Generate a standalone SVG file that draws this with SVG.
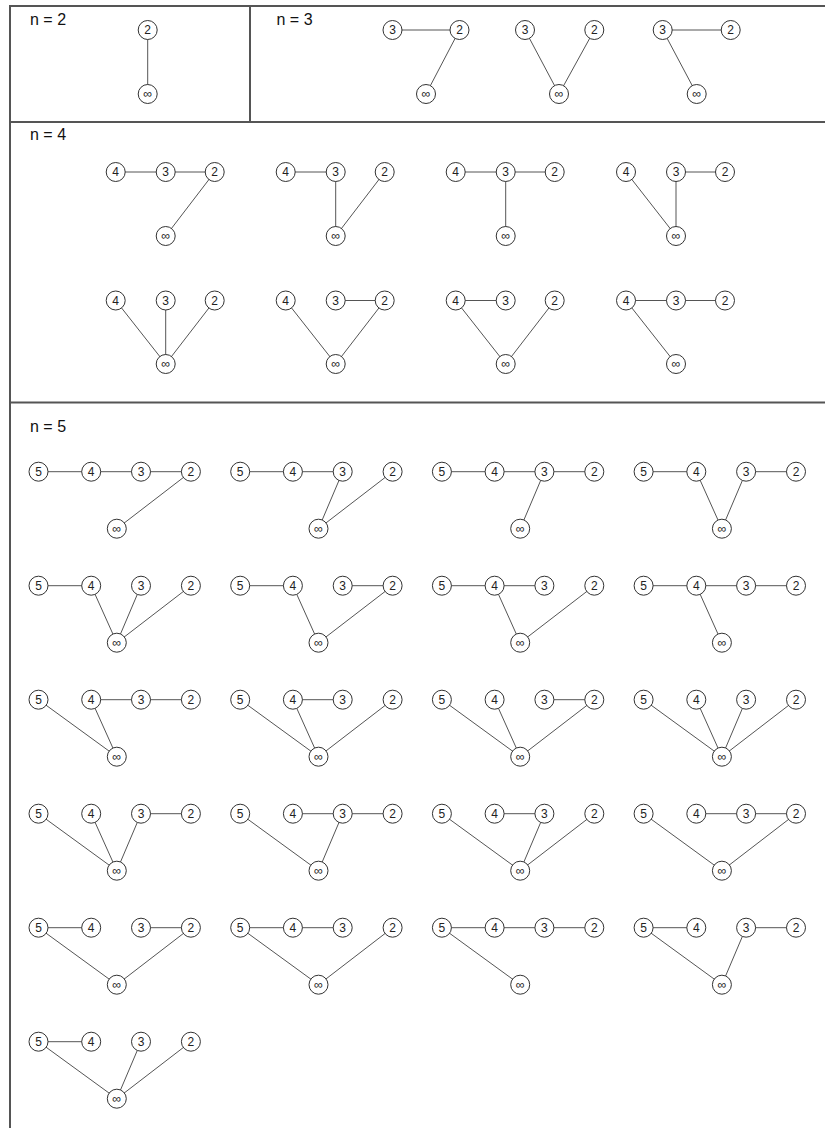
<svg xmlns="http://www.w3.org/2000/svg" width="825" height="1128" viewBox="0 0 825 1128">
<style>
.frame{stroke:#555;stroke-width:2;fill:none}
.edge line{stroke:#555;stroke-width:1}
.node circle{fill:#fff;stroke:#333;stroke-width:1}
.node text{font-family:"Liberation Sans",Arial,sans-serif;font-size:12px;text-anchor:middle;fill:#222}
.inf text{font-size:12.5px}
.title{font-family:"Liberation Sans",Arial,sans-serif;font-size:16px;fill:#111}
</style>
<rect width="825" height="1128" fill="#fff"/>
<g id="frames" class="frame">
<line x1="10" y1="6" x2="825" y2="6"/>
<line x1="10" y1="5" x2="10" y2="1128"/>
<line x1="250" y1="6" x2="250" y2="122"/>
<line x1="10" y1="122" x2="825" y2="122"/>
<line x1="10" y1="402.5" x2="825" y2="402.5"/>
</g>
<g id="titles" class="title">
<text x="30" y="25">n = 2</text>
<text x="276.5" y="25">n = 3</text>
<text x="30" y="140">n = 4</text>
<text x="30" y="431.5">n = 5</text>
</g>
<g id="connectors" class="edge">
<line x1="147.7" y1="30" x2="147.7" y2="94"/>
<line x1="392.5" y1="30" x2="459.5" y2="30"/><line x1="459.5" y1="30" x2="426" y2="94"/>
<line x1="525" y1="30" x2="559" y2="94"/><line x1="594.3" y1="30" x2="559" y2="94"/>
<line x1="662.7" y1="30" x2="730.7" y2="30"/><line x1="662.7" y1="30" x2="696.7" y2="94"/>
<line x1="115.7" y1="172" x2="214.7" y2="172"/><line x1="214.7" y1="172" x2="165.7" y2="236"/>
<line x1="285.7" y1="172" x2="335.7" y2="172"/><line x1="335.7" y1="172" x2="335.7" y2="236"/><line x1="384.7" y1="172" x2="335.7" y2="236"/>
<line x1="455.7" y1="172" x2="554.7" y2="172"/><line x1="505.7" y1="172" x2="505.7" y2="236"/>
<line x1="626" y1="172" x2="676" y2="236"/><line x1="676" y1="172" x2="676" y2="236"/><line x1="676" y1="172" x2="725" y2="172"/>
<line x1="115.7" y1="300.5" x2="165.7" y2="364"/><line x1="165.7" y1="300.5" x2="165.7" y2="364"/><line x1="214.7" y1="300.5" x2="165.7" y2="364"/>
<line x1="285.7" y1="300.5" x2="335.7" y2="364"/><line x1="335.7" y1="300.5" x2="384.7" y2="300.5"/><line x1="384.7" y1="300.5" x2="335.7" y2="364"/>
<line x1="455.7" y1="300.5" x2="505.7" y2="300.5"/><line x1="455.7" y1="300.5" x2="505.7" y2="364"/><line x1="554.7" y1="300.5" x2="505.7" y2="364"/>
<line x1="626" y1="300.5" x2="725" y2="300.5"/><line x1="626" y1="300.5" x2="676" y2="364"/>
<line x1="38.5" y1="471.7" x2="190.9" y2="471.7"/><line x1="190.9" y1="471.7" x2="116.8" y2="528.7"/>
<line x1="240.2" y1="471.7" x2="342.7" y2="471.7"/><line x1="342.7" y1="471.7" x2="318.5" y2="528.7"/><line x1="392.6" y1="471.7" x2="318.5" y2="528.7"/>
<line x1="441.9" y1="471.7" x2="594.3" y2="471.7"/><line x1="544.4" y1="471.7" x2="520.2" y2="528.7"/>
<line x1="643.6" y1="471.7" x2="696.3" y2="471.7"/><line x1="696.3" y1="471.7" x2="721.9" y2="528.7"/><line x1="746.1" y1="471.7" x2="721.9" y2="528.7"/><line x1="746.1" y1="471.7" x2="796" y2="471.7"/>
<line x1="38.5" y1="585.7" x2="91.2" y2="585.7"/><line x1="91.2" y1="585.7" x2="116.8" y2="642.7"/><line x1="141" y1="585.7" x2="116.8" y2="642.7"/><line x1="190.9" y1="585.7" x2="116.8" y2="642.7"/>
<line x1="240.2" y1="585.7" x2="292.9" y2="585.7"/><line x1="292.9" y1="585.7" x2="318.5" y2="642.7"/><line x1="342.7" y1="585.7" x2="392.6" y2="585.7"/><line x1="392.6" y1="585.7" x2="318.5" y2="642.7"/>
<line x1="441.9" y1="585.7" x2="544.4" y2="585.7"/><line x1="494.6" y1="585.7" x2="520.2" y2="642.7"/><line x1="594.3" y1="585.7" x2="520.2" y2="642.7"/>
<line x1="643.6" y1="585.7" x2="796" y2="585.7"/><line x1="696.3" y1="585.7" x2="721.9" y2="642.7"/>
<line x1="38.5" y1="699.7" x2="116.8" y2="756.7"/><line x1="91.2" y1="699.7" x2="116.8" y2="756.7"/><line x1="91.2" y1="699.7" x2="190.9" y2="699.7"/>
<line x1="240.2" y1="699.7" x2="318.5" y2="756.7"/><line x1="292.9" y1="699.7" x2="342.7" y2="699.7"/><line x1="292.9" y1="699.7" x2="318.5" y2="756.7"/><line x1="392.6" y1="699.7" x2="318.5" y2="756.7"/>
<line x1="441.9" y1="699.7" x2="520.2" y2="756.7"/><line x1="494.6" y1="699.7" x2="520.2" y2="756.7"/><line x1="544.4" y1="699.7" x2="594.3" y2="699.7"/><line x1="594.3" y1="699.7" x2="520.2" y2="756.7"/>
<line x1="643.6" y1="699.7" x2="721.9" y2="756.7"/><line x1="696.3" y1="699.7" x2="721.9" y2="756.7"/><line x1="746.1" y1="699.7" x2="721.9" y2="756.7"/><line x1="796" y1="699.7" x2="721.9" y2="756.7"/>
<line x1="38.5" y1="813.7" x2="116.8" y2="870.7"/><line x1="91.2" y1="813.7" x2="116.8" y2="870.7"/><line x1="141" y1="813.7" x2="116.8" y2="870.7"/><line x1="141" y1="813.7" x2="190.9" y2="813.7"/>
<line x1="240.2" y1="813.7" x2="318.5" y2="870.7"/><line x1="292.9" y1="813.7" x2="392.6" y2="813.7"/><line x1="342.7" y1="813.7" x2="318.5" y2="870.7"/>
<line x1="441.9" y1="813.7" x2="520.2" y2="870.7"/><line x1="494.6" y1="813.7" x2="544.4" y2="813.7"/><line x1="544.4" y1="813.7" x2="520.2" y2="870.7"/><line x1="594.3" y1="813.7" x2="520.2" y2="870.7"/>
<line x1="643.6" y1="813.7" x2="721.9" y2="870.7"/><line x1="696.3" y1="813.7" x2="796" y2="813.7"/><line x1="796" y1="813.7" x2="721.9" y2="870.7"/>
<line x1="38.5" y1="927.7" x2="91.2" y2="927.7"/><line x1="38.5" y1="927.7" x2="116.8" y2="984.7"/><line x1="141" y1="927.7" x2="190.9" y2="927.7"/><line x1="190.9" y1="927.7" x2="116.8" y2="984.7"/>
<line x1="240.2" y1="927.7" x2="342.7" y2="927.7"/><line x1="240.2" y1="927.7" x2="318.5" y2="984.7"/><line x1="392.6" y1="927.7" x2="318.5" y2="984.7"/>
<line x1="441.9" y1="927.7" x2="594.3" y2="927.7"/><line x1="441.9" y1="927.7" x2="520.2" y2="984.7"/>
<line x1="643.6" y1="927.7" x2="696.3" y2="927.7"/><line x1="643.6" y1="927.7" x2="721.9" y2="984.7"/><line x1="746.1" y1="927.7" x2="721.9" y2="984.7"/><line x1="746.1" y1="927.7" x2="796" y2="927.7"/>
<line x1="38.5" y1="1041.7" x2="91.2" y2="1041.7"/><line x1="38.5" y1="1041.7" x2="116.8" y2="1098.7"/><line x1="141" y1="1041.7" x2="116.8" y2="1098.7"/><line x1="190.9" y1="1041.7" x2="116.8" y2="1098.7"/>
</g>
<g id="nodes">
<g id="n2-2" class="node" transform="translate(147.7,30)"><circle r="9.5"/><text y="4.3">2</text></g>
<g id="n2-inf" class="node inf" transform="translate(147.7,94)"><circle r="9.5"/><text y="4.3">∞</text></g>
<g id="n3-g1-3" class="node" transform="translate(392.5,30)"><circle r="9.5"/><text y="4.3">3</text></g>
<g id="n3-g1-2" class="node" transform="translate(459.5,30)"><circle r="9.5"/><text y="4.3">2</text></g>
<g id="n3-g1-inf" class="node inf" transform="translate(426,94)"><circle r="9.5"/><text y="4.3">∞</text></g>
<g id="n3-g2-3" class="node" transform="translate(525,30)"><circle r="9.5"/><text y="4.3">3</text></g>
<g id="n3-g2-2" class="node" transform="translate(594.3,30)"><circle r="9.5"/><text y="4.3">2</text></g>
<g id="n3-g2-inf" class="node inf" transform="translate(559,94)"><circle r="9.5"/><text y="4.3">∞</text></g>
<g id="n3-g3-3" class="node" transform="translate(662.7,30)"><circle r="9.5"/><text y="4.3">3</text></g>
<g id="n3-g3-2" class="node" transform="translate(730.7,30)"><circle r="9.5"/><text y="4.3">2</text></g>
<g id="n3-g3-inf" class="node inf" transform="translate(696.7,94)"><circle r="9.5"/><text y="4.3">∞</text></g>
<g id="n4-r1g1-4" class="node" transform="translate(115.7,172)"><circle r="9.5"/><text y="4.3">4</text></g>
<g id="n4-r1g1-3" class="node" transform="translate(165.7,172)"><circle r="9.5"/><text y="4.3">3</text></g>
<g id="n4-r1g1-2" class="node" transform="translate(214.7,172)"><circle r="9.5"/><text y="4.3">2</text></g>
<g id="n4-r1g1-inf" class="node inf" transform="translate(165.7,236)"><circle r="9.5"/><text y="4.3">∞</text></g>
<g id="n4-r1g2-4" class="node" transform="translate(285.7,172)"><circle r="9.5"/><text y="4.3">4</text></g>
<g id="n4-r1g2-3" class="node" transform="translate(335.7,172)"><circle r="9.5"/><text y="4.3">3</text></g>
<g id="n4-r1g2-2" class="node" transform="translate(384.7,172)"><circle r="9.5"/><text y="4.3">2</text></g>
<g id="n4-r1g2-inf" class="node inf" transform="translate(335.7,236)"><circle r="9.5"/><text y="4.3">∞</text></g>
<g id="n4-r1g3-4" class="node" transform="translate(455.7,172)"><circle r="9.5"/><text y="4.3">4</text></g>
<g id="n4-r1g3-3" class="node" transform="translate(505.7,172)"><circle r="9.5"/><text y="4.3">3</text></g>
<g id="n4-r1g3-2" class="node" transform="translate(554.7,172)"><circle r="9.5"/><text y="4.3">2</text></g>
<g id="n4-r1g3-inf" class="node inf" transform="translate(505.7,236)"><circle r="9.5"/><text y="4.3">∞</text></g>
<g id="n4-r1g4-4" class="node" transform="translate(626,172)"><circle r="9.5"/><text y="4.3">4</text></g>
<g id="n4-r1g4-3" class="node" transform="translate(676,172)"><circle r="9.5"/><text y="4.3">3</text></g>
<g id="n4-r1g4-2" class="node" transform="translate(725,172)"><circle r="9.5"/><text y="4.3">2</text></g>
<g id="n4-r1g4-inf" class="node inf" transform="translate(676,236)"><circle r="9.5"/><text y="4.3">∞</text></g>
<g id="n4-r2g1-4" class="node" transform="translate(115.7,300.5)"><circle r="9.5"/><text y="4.3">4</text></g>
<g id="n4-r2g1-3" class="node" transform="translate(165.7,300.5)"><circle r="9.5"/><text y="4.3">3</text></g>
<g id="n4-r2g1-2" class="node" transform="translate(214.7,300.5)"><circle r="9.5"/><text y="4.3">2</text></g>
<g id="n4-r2g1-inf" class="node inf" transform="translate(165.7,364)"><circle r="9.5"/><text y="4.3">∞</text></g>
<g id="n4-r2g2-4" class="node" transform="translate(285.7,300.5)"><circle r="9.5"/><text y="4.3">4</text></g>
<g id="n4-r2g2-3" class="node" transform="translate(335.7,300.5)"><circle r="9.5"/><text y="4.3">3</text></g>
<g id="n4-r2g2-2" class="node" transform="translate(384.7,300.5)"><circle r="9.5"/><text y="4.3">2</text></g>
<g id="n4-r2g2-inf" class="node inf" transform="translate(335.7,364)"><circle r="9.5"/><text y="4.3">∞</text></g>
<g id="n4-r2g3-4" class="node" transform="translate(455.7,300.5)"><circle r="9.5"/><text y="4.3">4</text></g>
<g id="n4-r2g3-3" class="node" transform="translate(505.7,300.5)"><circle r="9.5"/><text y="4.3">3</text></g>
<g id="n4-r2g3-2" class="node" transform="translate(554.7,300.5)"><circle r="9.5"/><text y="4.3">2</text></g>
<g id="n4-r2g3-inf" class="node inf" transform="translate(505.7,364)"><circle r="9.5"/><text y="4.3">∞</text></g>
<g id="n4-r2g4-4" class="node" transform="translate(626,300.5)"><circle r="9.5"/><text y="4.3">4</text></g>
<g id="n4-r2g4-3" class="node" transform="translate(676,300.5)"><circle r="9.5"/><text y="4.3">3</text></g>
<g id="n4-r2g4-2" class="node" transform="translate(725,300.5)"><circle r="9.5"/><text y="4.3">2</text></g>
<g id="n4-r2g4-inf" class="node inf" transform="translate(676,364)"><circle r="9.5"/><text y="4.3">∞</text></g>
<g id="n5-r1g1-5" class="node" transform="translate(38.5,471.7)"><circle r="9.5"/><text y="4.3">5</text></g>
<g id="n5-r1g1-4" class="node" transform="translate(91.2,471.7)"><circle r="9.5"/><text y="4.3">4</text></g>
<g id="n5-r1g1-3" class="node" transform="translate(141,471.7)"><circle r="9.5"/><text y="4.3">3</text></g>
<g id="n5-r1g1-2" class="node" transform="translate(190.9,471.7)"><circle r="9.5"/><text y="4.3">2</text></g>
<g id="n5-r1g1-inf" class="node inf" transform="translate(116.8,528.7)"><circle r="9.5"/><text y="4.3">∞</text></g>
<g id="n5-r1g2-5" class="node" transform="translate(240.2,471.7)"><circle r="9.5"/><text y="4.3">5</text></g>
<g id="n5-r1g2-4" class="node" transform="translate(292.9,471.7)"><circle r="9.5"/><text y="4.3">4</text></g>
<g id="n5-r1g2-3" class="node" transform="translate(342.7,471.7)"><circle r="9.5"/><text y="4.3">3</text></g>
<g id="n5-r1g2-2" class="node" transform="translate(392.6,471.7)"><circle r="9.5"/><text y="4.3">2</text></g>
<g id="n5-r1g2-inf" class="node inf" transform="translate(318.5,528.7)"><circle r="9.5"/><text y="4.3">∞</text></g>
<g id="n5-r1g3-5" class="node" transform="translate(441.9,471.7)"><circle r="9.5"/><text y="4.3">5</text></g>
<g id="n5-r1g3-4" class="node" transform="translate(494.6,471.7)"><circle r="9.5"/><text y="4.3">4</text></g>
<g id="n5-r1g3-3" class="node" transform="translate(544.4,471.7)"><circle r="9.5"/><text y="4.3">3</text></g>
<g id="n5-r1g3-2" class="node" transform="translate(594.3,471.7)"><circle r="9.5"/><text y="4.3">2</text></g>
<g id="n5-r1g3-inf" class="node inf" transform="translate(520.2,528.7)"><circle r="9.5"/><text y="4.3">∞</text></g>
<g id="n5-r1g4-5" class="node" transform="translate(643.6,471.7)"><circle r="9.5"/><text y="4.3">5</text></g>
<g id="n5-r1g4-4" class="node" transform="translate(696.3,471.7)"><circle r="9.5"/><text y="4.3">4</text></g>
<g id="n5-r1g4-3" class="node" transform="translate(746.1,471.7)"><circle r="9.5"/><text y="4.3">3</text></g>
<g id="n5-r1g4-2" class="node" transform="translate(796,471.7)"><circle r="9.5"/><text y="4.3">2</text></g>
<g id="n5-r1g4-inf" class="node inf" transform="translate(721.9,528.7)"><circle r="9.5"/><text y="4.3">∞</text></g>
<g id="n5-r2g1-5" class="node" transform="translate(38.5,585.7)"><circle r="9.5"/><text y="4.3">5</text></g>
<g id="n5-r2g1-4" class="node" transform="translate(91.2,585.7)"><circle r="9.5"/><text y="4.3">4</text></g>
<g id="n5-r2g1-3" class="node" transform="translate(141,585.7)"><circle r="9.5"/><text y="4.3">3</text></g>
<g id="n5-r2g1-2" class="node" transform="translate(190.9,585.7)"><circle r="9.5"/><text y="4.3">2</text></g>
<g id="n5-r2g1-inf" class="node inf" transform="translate(116.8,642.7)"><circle r="9.5"/><text y="4.3">∞</text></g>
<g id="n5-r2g2-5" class="node" transform="translate(240.2,585.7)"><circle r="9.5"/><text y="4.3">5</text></g>
<g id="n5-r2g2-4" class="node" transform="translate(292.9,585.7)"><circle r="9.5"/><text y="4.3">4</text></g>
<g id="n5-r2g2-3" class="node" transform="translate(342.7,585.7)"><circle r="9.5"/><text y="4.3">3</text></g>
<g id="n5-r2g2-2" class="node" transform="translate(392.6,585.7)"><circle r="9.5"/><text y="4.3">2</text></g>
<g id="n5-r2g2-inf" class="node inf" transform="translate(318.5,642.7)"><circle r="9.5"/><text y="4.3">∞</text></g>
<g id="n5-r2g3-5" class="node" transform="translate(441.9,585.7)"><circle r="9.5"/><text y="4.3">5</text></g>
<g id="n5-r2g3-4" class="node" transform="translate(494.6,585.7)"><circle r="9.5"/><text y="4.3">4</text></g>
<g id="n5-r2g3-3" class="node" transform="translate(544.4,585.7)"><circle r="9.5"/><text y="4.3">3</text></g>
<g id="n5-r2g3-2" class="node" transform="translate(594.3,585.7)"><circle r="9.5"/><text y="4.3">2</text></g>
<g id="n5-r2g3-inf" class="node inf" transform="translate(520.2,642.7)"><circle r="9.5"/><text y="4.3">∞</text></g>
<g id="n5-r2g4-5" class="node" transform="translate(643.6,585.7)"><circle r="9.5"/><text y="4.3">5</text></g>
<g id="n5-r2g4-4" class="node" transform="translate(696.3,585.7)"><circle r="9.5"/><text y="4.3">4</text></g>
<g id="n5-r2g4-3" class="node" transform="translate(746.1,585.7)"><circle r="9.5"/><text y="4.3">3</text></g>
<g id="n5-r2g4-2" class="node" transform="translate(796,585.7)"><circle r="9.5"/><text y="4.3">2</text></g>
<g id="n5-r2g4-inf" class="node inf" transform="translate(721.9,642.7)"><circle r="9.5"/><text y="4.3">∞</text></g>
<g id="n5-r3g1-5" class="node" transform="translate(38.5,699.7)"><circle r="9.5"/><text y="4.3">5</text></g>
<g id="n5-r3g1-4" class="node" transform="translate(91.2,699.7)"><circle r="9.5"/><text y="4.3">4</text></g>
<g id="n5-r3g1-3" class="node" transform="translate(141,699.7)"><circle r="9.5"/><text y="4.3">3</text></g>
<g id="n5-r3g1-2" class="node" transform="translate(190.9,699.7)"><circle r="9.5"/><text y="4.3">2</text></g>
<g id="n5-r3g1-inf" class="node inf" transform="translate(116.8,756.7)"><circle r="9.5"/><text y="4.3">∞</text></g>
<g id="n5-r3g2-5" class="node" transform="translate(240.2,699.7)"><circle r="9.5"/><text y="4.3">5</text></g>
<g id="n5-r3g2-4" class="node" transform="translate(292.9,699.7)"><circle r="9.5"/><text y="4.3">4</text></g>
<g id="n5-r3g2-3" class="node" transform="translate(342.7,699.7)"><circle r="9.5"/><text y="4.3">3</text></g>
<g id="n5-r3g2-2" class="node" transform="translate(392.6,699.7)"><circle r="9.5"/><text y="4.3">2</text></g>
<g id="n5-r3g2-inf" class="node inf" transform="translate(318.5,756.7)"><circle r="9.5"/><text y="4.3">∞</text></g>
<g id="n5-r3g3-5" class="node" transform="translate(441.9,699.7)"><circle r="9.5"/><text y="4.3">5</text></g>
<g id="n5-r3g3-4" class="node" transform="translate(494.6,699.7)"><circle r="9.5"/><text y="4.3">4</text></g>
<g id="n5-r3g3-3" class="node" transform="translate(544.4,699.7)"><circle r="9.5"/><text y="4.3">3</text></g>
<g id="n5-r3g3-2" class="node" transform="translate(594.3,699.7)"><circle r="9.5"/><text y="4.3">2</text></g>
<g id="n5-r3g3-inf" class="node inf" transform="translate(520.2,756.7)"><circle r="9.5"/><text y="4.3">∞</text></g>
<g id="n5-r3g4-5" class="node" transform="translate(643.6,699.7)"><circle r="9.5"/><text y="4.3">5</text></g>
<g id="n5-r3g4-4" class="node" transform="translate(696.3,699.7)"><circle r="9.5"/><text y="4.3">4</text></g>
<g id="n5-r3g4-3" class="node" transform="translate(746.1,699.7)"><circle r="9.5"/><text y="4.3">3</text></g>
<g id="n5-r3g4-2" class="node" transform="translate(796,699.7)"><circle r="9.5"/><text y="4.3">2</text></g>
<g id="n5-r3g4-inf" class="node inf" transform="translate(721.9,756.7)"><circle r="9.5"/><text y="4.3">∞</text></g>
<g id="n5-r4g1-5" class="node" transform="translate(38.5,813.7)"><circle r="9.5"/><text y="4.3">5</text></g>
<g id="n5-r4g1-4" class="node" transform="translate(91.2,813.7)"><circle r="9.5"/><text y="4.3">4</text></g>
<g id="n5-r4g1-3" class="node" transform="translate(141,813.7)"><circle r="9.5"/><text y="4.3">3</text></g>
<g id="n5-r4g1-2" class="node" transform="translate(190.9,813.7)"><circle r="9.5"/><text y="4.3">2</text></g>
<g id="n5-r4g1-inf" class="node inf" transform="translate(116.8,870.7)"><circle r="9.5"/><text y="4.3">∞</text></g>
<g id="n5-r4g2-5" class="node" transform="translate(240.2,813.7)"><circle r="9.5"/><text y="4.3">5</text></g>
<g id="n5-r4g2-4" class="node" transform="translate(292.9,813.7)"><circle r="9.5"/><text y="4.3">4</text></g>
<g id="n5-r4g2-3" class="node" transform="translate(342.7,813.7)"><circle r="9.5"/><text y="4.3">3</text></g>
<g id="n5-r4g2-2" class="node" transform="translate(392.6,813.7)"><circle r="9.5"/><text y="4.3">2</text></g>
<g id="n5-r4g2-inf" class="node inf" transform="translate(318.5,870.7)"><circle r="9.5"/><text y="4.3">∞</text></g>
<g id="n5-r4g3-5" class="node" transform="translate(441.9,813.7)"><circle r="9.5"/><text y="4.3">5</text></g>
<g id="n5-r4g3-4" class="node" transform="translate(494.6,813.7)"><circle r="9.5"/><text y="4.3">4</text></g>
<g id="n5-r4g3-3" class="node" transform="translate(544.4,813.7)"><circle r="9.5"/><text y="4.3">3</text></g>
<g id="n5-r4g3-2" class="node" transform="translate(594.3,813.7)"><circle r="9.5"/><text y="4.3">2</text></g>
<g id="n5-r4g3-inf" class="node inf" transform="translate(520.2,870.7)"><circle r="9.5"/><text y="4.3">∞</text></g>
<g id="n5-r4g4-5" class="node" transform="translate(643.6,813.7)"><circle r="9.5"/><text y="4.3">5</text></g>
<g id="n5-r4g4-4" class="node" transform="translate(696.3,813.7)"><circle r="9.5"/><text y="4.3">4</text></g>
<g id="n5-r4g4-3" class="node" transform="translate(746.1,813.7)"><circle r="9.5"/><text y="4.3">3</text></g>
<g id="n5-r4g4-2" class="node" transform="translate(796,813.7)"><circle r="9.5"/><text y="4.3">2</text></g>
<g id="n5-r4g4-inf" class="node inf" transform="translate(721.9,870.7)"><circle r="9.5"/><text y="4.3">∞</text></g>
<g id="n5-r5g1-5" class="node" transform="translate(38.5,927.7)"><circle r="9.5"/><text y="4.3">5</text></g>
<g id="n5-r5g1-4" class="node" transform="translate(91.2,927.7)"><circle r="9.5"/><text y="4.3">4</text></g>
<g id="n5-r5g1-3" class="node" transform="translate(141,927.7)"><circle r="9.5"/><text y="4.3">3</text></g>
<g id="n5-r5g1-2" class="node" transform="translate(190.9,927.7)"><circle r="9.5"/><text y="4.3">2</text></g>
<g id="n5-r5g1-inf" class="node inf" transform="translate(116.8,984.7)"><circle r="9.5"/><text y="4.3">∞</text></g>
<g id="n5-r5g2-5" class="node" transform="translate(240.2,927.7)"><circle r="9.5"/><text y="4.3">5</text></g>
<g id="n5-r5g2-4" class="node" transform="translate(292.9,927.7)"><circle r="9.5"/><text y="4.3">4</text></g>
<g id="n5-r5g2-3" class="node" transform="translate(342.7,927.7)"><circle r="9.5"/><text y="4.3">3</text></g>
<g id="n5-r5g2-2" class="node" transform="translate(392.6,927.7)"><circle r="9.5"/><text y="4.3">2</text></g>
<g id="n5-r5g2-inf" class="node inf" transform="translate(318.5,984.7)"><circle r="9.5"/><text y="4.3">∞</text></g>
<g id="n5-r5g3-5" class="node" transform="translate(441.9,927.7)"><circle r="9.5"/><text y="4.3">5</text></g>
<g id="n5-r5g3-4" class="node" transform="translate(494.6,927.7)"><circle r="9.5"/><text y="4.3">4</text></g>
<g id="n5-r5g3-3" class="node" transform="translate(544.4,927.7)"><circle r="9.5"/><text y="4.3">3</text></g>
<g id="n5-r5g3-2" class="node" transform="translate(594.3,927.7)"><circle r="9.5"/><text y="4.3">2</text></g>
<g id="n5-r5g3-inf" class="node inf" transform="translate(520.2,984.7)"><circle r="9.5"/><text y="4.3">∞</text></g>
<g id="n5-r5g4-5" class="node" transform="translate(643.6,927.7)"><circle r="9.5"/><text y="4.3">5</text></g>
<g id="n5-r5g4-4" class="node" transform="translate(696.3,927.7)"><circle r="9.5"/><text y="4.3">4</text></g>
<g id="n5-r5g4-3" class="node" transform="translate(746.1,927.7)"><circle r="9.5"/><text y="4.3">3</text></g>
<g id="n5-r5g4-2" class="node" transform="translate(796,927.7)"><circle r="9.5"/><text y="4.3">2</text></g>
<g id="n5-r5g4-inf" class="node inf" transform="translate(721.9,984.7)"><circle r="9.5"/><text y="4.3">∞</text></g>
<g id="n5-r6g1-5" class="node" transform="translate(38.5,1041.7)"><circle r="9.5"/><text y="4.3">5</text></g>
<g id="n5-r6g1-4" class="node" transform="translate(91.2,1041.7)"><circle r="9.5"/><text y="4.3">4</text></g>
<g id="n5-r6g1-3" class="node" transform="translate(141,1041.7)"><circle r="9.5"/><text y="4.3">3</text></g>
<g id="n5-r6g1-2" class="node" transform="translate(190.9,1041.7)"><circle r="9.5"/><text y="4.3">2</text></g>
<g id="n5-r6g1-inf" class="node inf" transform="translate(116.8,1098.7)"><circle r="9.5"/><text y="4.3">∞</text></g>
</g>
</svg>
